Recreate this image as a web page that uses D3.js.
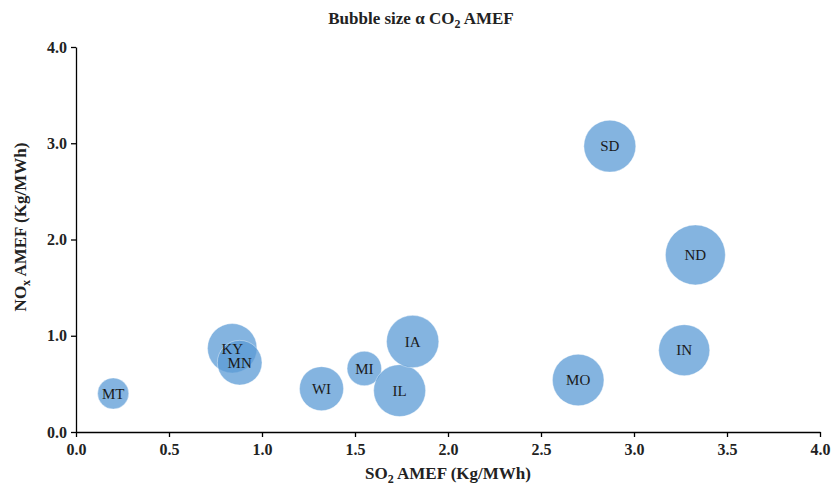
<!DOCTYPE html>
<html>
<head>
<meta charset="utf-8">
<script src="https://cdn.jsdelivr.net/npm/d3@7"></script>
<style>
  body { margin: 0; background: #fff; }
  svg text { font-family: "Liberation Serif", "Times New Roman", serif; }
</style>
</head>
<body>
<svg id="chart" width="834" height="487"></svg>
<script>
// State emission factors (AMEF)
const states = ["MT", "KY", "MN", "WI", "MI", "IL", "IA", "MO", "SD", "IN", "ND"];
const so2 = [0.20, 0.84, 0.88, 1.32, 1.55, 1.74, 1.81, 2.70, 2.87, 3.27, 3.33];
const nox = [0.40, 0.87, 0.72, 0.45, 0.66, 0.43, 0.94, 0.54, 2.97, 0.85, 1.84];
const co2 = [270, 680, 555, 540, 330, 750, 760, 740, 750, 725, 1000];

const xTicks = [0, 0.5, 1.0, 1.5, 2.0, 2.5, 3.0, 3.5, 4.0];
const yTicks = [0, 1.0, 2.0, 3.0, 4.0];

const svg = d3.select("#chart");
const margin = { left: 76, right: 14, top: 47, bottom: 55 };
const W = 834, H = 487;

const x = d3.scaleLinear().domain([0, 4]).range([margin.left, W - margin.right]);
const y = d3.scaleLinear().domain([0, 4]).range([H - margin.bottom, margin.top]);
const r = d3.scaleSqrt().domain([0, d3.max(co2)]).range([0, 30]);

// bubbles
const data = states.map((s, i) => ({ s, x: so2[i], y: nox[i], c: co2[i] }));
const g = svg.append("g");
g.selectAll("circle").data(data).join("circle")
  .attr("cx", d => x(d.x))
  .attr("cy", d => y(d.y))
  .attr("r", d => r(d.c))
  .attr("fill", "#5B9BD5")
  .attr("fill-opacity", 0.75)
  .attr("stroke", "#ffffff")
  .attr("stroke-opacity", 0.4)
  .attr("stroke-width", 1);

g.selectAll("text.lbl").data(data).join("text")
  .attr("class", "lbl")
  .attr("x", d => x(d.x))
  .attr("y", d => y(d.y))
  .attr("dy", "0.35em")
  .attr("text-anchor", "middle")
  .attr("font-size", 15)
  .attr("fill", "#1a1a1a")
  .text(d => d.s);

// axes
const xAxis = d3.axisBottom(x).tickValues(xTicks).tickFormat(d3.format(".1f")).tickSize(5).tickSizeOuter(0);
const yAxis = d3.axisLeft(y).tickValues(yTicks).tickFormat(d3.format(".1f")).tickSize(5).tickSizeOuter(0);

const gx = svg.append("g").attr("transform", `translate(0,${y(0)})`).call(xAxis);
const gy = svg.append("g").attr("transform", `translate(${x(0)},0)`).call(yAxis);
[gx, gy].forEach(a => {
  a.select(".domain").attr("stroke", "#000").attr("stroke-width", 1.3);
  a.selectAll(".tick line").attr("stroke", "#000").attr("stroke-width", 1.3);
  a.selectAll(".tick text")
    .attr("font-size", 16).attr("font-weight", "bold").attr("fill", "#222");
});
gx.selectAll(".tick text").attr("dy", "15px");
gy.selectAll(".tick text").attr("x", -9);

// title
const title = svg.append("text")
  .attr("x", 421).attr("y", 24)
  .attr("text-anchor", "middle")
  .attr("font-size", 17).attr("font-weight", "bold").attr("fill", "#222");
title.append("tspan").text("Bubble size α CO");
title.append("tspan").attr("font-size", 12).attr("dy", 4).text("2");
title.append("tspan").attr("dy", -4).text(" AMEF");

// x axis title
const xt = svg.append("text")
  .attr("x", 448).attr("y", 479)
  .attr("text-anchor", "middle")
  .attr("font-size", 17).attr("font-weight", "bold").attr("fill", "#222");
xt.append("tspan").text("SO");
xt.append("tspan").attr("font-size", 12).attr("dy", 4).text("2");
xt.append("tspan").attr("dy", -4).text(" AMEF (Kg/MWh)");

// y axis title
const yt = svg.append("text")
  .attr("transform", "translate(26,227) rotate(-90)")
  .attr("text-anchor", "middle")
  .attr("font-size", 17).attr("font-weight", "bold").attr("fill", "#222");
yt.append("tspan").text("NO");
yt.append("tspan").attr("font-size", 12).attr("dy", 4).text("x");
yt.append("tspan").attr("dy", -4).text(" AMEF (Kg/MWh)");
</script>
</body>
</html>
